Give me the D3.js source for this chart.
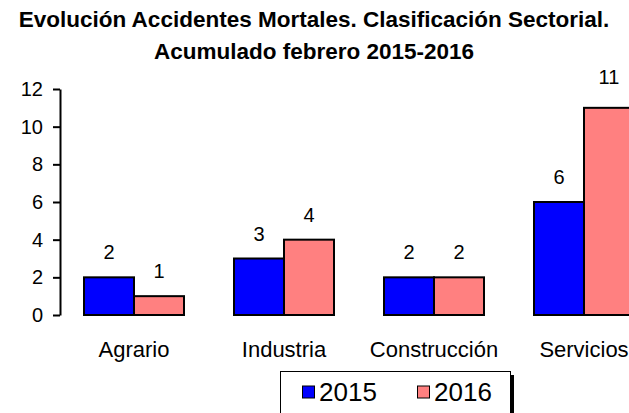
<!DOCTYPE html>
<html>
<head>
<meta charset="utf-8">
<script src="https://cdn.jsdelivr.net/npm/d3@7"></script>
<style>
  body { margin: 0; background: #fff; }
  text { font-family: "Liberation Sans", Arial, sans-serif; }
</style>
</head>
<body>
<svg id="chart"></svg>
<script>
var categories = ["Agrario", "Industria", "Construcción", "Servicios"];
var years = ["2015", "2016"];
var values2015 = [2, 3, 2, 6];
var values2016 = [1, 4, 2, 11];
var yTicks = [0, 2, 4, 6, 8, 10, 12];
var titleLines = ["Evolución Accidentes Mortales. Clasificación Sectorial.",
                  "Acumulado febrero 2015-2016"];

var screen = { width: 629, height: 413 };
var colors = { "2015": "#0000ff", "2016": "#ff8080" };

var rows = categories.map(function(c, i) {
  return { cat: c, vals: [{ year: "2015", v: values2015[i] }, { year: "2016", v: values2016[i] }] };
});

var svg = d3.select("#chart")
            .attr("width", screen.width)
            .attr("height", screen.height);

// title
svg.append("g")
   .selectAll("text")
   .data(titleLines)
   .enter()
   .append("text")
   .attr("x", 314)
   .attr("y", function(d, i) { return 27 + i * 32; })
   .attr("text-anchor", "middle")
   .attr("font-weight", "bold")
   .attr("font-size", "22.5px")
   .text(function(d) { return d; });

var x = d3.scaleBand()
          .domain(categories)
          .range([59, 659])
          .paddingInner(1 / 3)
          .paddingOuter(1 / 6);

var xSub = d3.scaleBand()
             .domain(years)
             .range([0, x.bandwidth()]);

var y = d3.scaleLinear()
          .domain([0, 12])
          .range([315, 89]);

// y axis
var yAxis = svg.append("g")
   .attr("transform", "translate(60,0)")
   .call(d3.axisLeft(y).tickValues(yTicks).tickSize(7).tickSizeOuter(0).tickPadding(10));
yAxis.selectAll("path, line").attr("stroke", "#000").attr("stroke-width", 2);
yAxis.selectAll("text").attr("font-size", "20px").attr("fill", "#000")
     .attr("font-family", "Liberation Sans, Arial, sans-serif");

// bars
var groups = svg.append("g")
   .selectAll("g")
   .data(rows)
   .enter()
   .append("g")
   .attr("transform", function(d) { return "translate(" + x(d.cat) + ",0)"; });

groups.selectAll("rect")
      .data(function(d) { return d.vals; })
      .enter()
      .append("rect")
      .attr("x", function(d) { return xSub(d.year); })
      .attr("y", function(d) { return y(d.v); })
      .attr("width", xSub.bandwidth())
      .attr("height", function(d) { return y(0) - y(d.v); })
      .attr("fill", function(d) { return colors[d.year]; })
      .attr("stroke", "#000")
      .attr("stroke-width", 2);

groups.selectAll("text.lbl")
      .data(function(d) { return d.vals; })
      .enter()
      .append("text")
      .attr("class", "lbl")
      .attr("x", function(d) { return xSub(d.year) + xSub.bandwidth() / 2; })
      .attr("y", function(d) { return y(d.v) - (d.v > 10 ? 24 : 18); })
      .attr("text-anchor", "middle")
      .attr("font-size", "20px")
      .text(function(d) { return d.v; });

// category labels
svg.append("g")
   .selectAll("text")
   .data(categories)
   .enter()
   .append("text")
   .attr("x", function(d) { return x(d) + x.bandwidth() / 2; })
   .attr("y", 357)
   .attr("text-anchor", "middle")
   .attr("font-size", "22px")
   .text(function(d) { return d; });

// legend
var legend = svg.append("g");
legend.append("rect")
      .attr("x", 284).attr("y", 375)
      .attr("width", 230).attr("height", 60)
      .attr("fill", "#000");
legend.append("rect")
      .attr("x", 280.5).attr("y", 371.5)
      .attr("width", 230).attr("height", 60)
      .attr("fill", "#fff")
      .attr("stroke", "#000")
      .attr("stroke-width", 1);

var items = legend.selectAll("g.item")
      .data(years)
      .enter()
      .append("g")
      .attr("class", "item")
      .attr("transform", function(d, i) { return "translate(" + (302 + i * 115) + ",0)"; });
items.append("rect")
     .attr("x", 0.5).attr("y", 386)
     .attr("width", 12).attr("height", 12)
     .attr("fill", function(d) { return colors[d]; })
     .attr("stroke", "#000")
     .attr("stroke-width", 1);
items.append("text")
     .attr("x", 17)
     .attr("y", 401)
     .attr("font-size", "26px")
     .text(function(d) { return d; });
</script>
</body>
</html>
